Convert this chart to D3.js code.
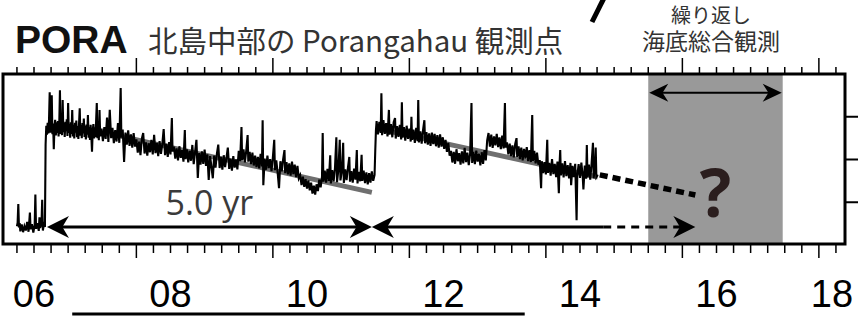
<!DOCTYPE html>
<html>
<head><meta charset="utf-8">
<style>
  body { margin: 0; background: #fff; }
  svg { display: block; }
  .cjk { font-family: "Noto Sans CJK JP", sans-serif; fill: #333; }
</style>
</head>
<body>
<script src="https://d3js.org/d3.v7.min.js"></script>
<script>
var width = 858, height = 316;

// PORA GPS displacement, [decimal year, mm]
var displacement = [
  [2005.75,-5.6],[2005.76,-4.8],[2005.77,-0.4],[2005.78,-5.9],[2005.79,-4.9],[2005.80,-6.8],[2005.82,-5.2],[2005.84,-7.0],[2005.86,-5.6],[2005.88,-6.6],[2005.90,-4.6],[2005.92,-6.9],[2005.94,-2.4],[2005.95,-6.3],[2005.97,-5.1],[2005.99,-7.1],[2006.01,-5.3],[2006.02,1.8],[2006.03,-6.2],[2006.05,-4.9],[2006.07,-6.7],[2006.08,-3.5],[2006.09,-6.0],[2006.11,-5.0],[2006.12,0.6],[2006.13,-6.6],[2006.15,-4.6],[2006.16,-5.8],
  [2006.17,13.5],[2006.18,17.9],[2006.19,15.8],[2006.20,18.6],[2006.21,16.1],[2006.22,19.2],[2006.23,25.7],[2006.24,16.3],[2006.25,18.8],[2006.26,25.0],[2006.27,15.9],[2006.28,18.4],[2006.29,12.4],[2006.30,17.6],[2006.31,19.3],[2006.32,15.6],[2006.33,18.7],[2006.34,16.2],[2006.35,19.0],[2006.36,15.4],[2006.37,18.2],[2006.38,26.2],[2006.39,16.0],[2006.40,18.9],[2006.41,15.7],[2006.42,23.9],[2006.43,16.4],[2006.44,18.5],[2006.45,15.3],[2006.46,18.8],[2006.47,16.6],[2006.48,19.4],[2006.49,15.5],[2006.50,23.2],[2006.51,16.2],[2006.52,18.3],[2006.53,15.1],[2006.54,18.7],[2006.55,16.0],[2006.56,21.6],[2006.57,15.4],[2006.58,18.1],[2006.59,14.9],[2006.60,18.6],[2006.61,16.3],[2006.62,19.1],[2006.63,15.2],[2006.64,17.8],[2006.65,14.8],[2006.66,18.4],[2006.67,22.0],[2006.68,15.6],[2006.69,18.0],[2006.70,15.0],[2006.71,18.5],[2006.72,16.1],[2006.73,19.6],[2006.74,15.3],[2006.75,17.9],[2006.76,14.7],[2006.77,18.2],[2006.78,15.8],[2006.79,20.4],[2006.80,15.1],[2006.81,17.6],[2006.82,14.6],[2006.83,18.1],[2006.84,15.5],[2006.85,11.8],[2006.86,16.7],[2006.87,18.3],[2006.88,14.9],[2006.89,17.5],[2006.90,15.2],[2006.91,19.0],[2006.92,23.2],[2006.93,15.0],[2006.94,17.6],[2006.95,14.5],[2006.96,21.6],[2006.97,15.4],
  [2006.99,17.2],[2007.01,14.3],[2007.03,17.6],[2007.05,14.8],[2007.07,19.8],[2007.09,14.1],[2007.11,21.6],[2007.13,15.0],[2007.15,17.4],[2007.17,13.8],[2007.19,16.9],[2007.21,14.2],[2007.23,18.5],[2007.25,13.9],[2007.27,26.7],[2007.28,15.1],[2007.30,17.0],[2007.32,9.4],[2007.34,16.3],[2007.36,13.5],[2007.38,16.8],[2007.40,13.2],[2007.42,15.9],[2007.44,12.8],[2007.46,16.2],[2007.48,13.0],
  [2007.50,14.7],[2007.52,11.6],[2007.54,14.2],[2007.56,11.0],[2007.58,14.9],[2007.60,16.2],[2007.62,11.4],[2007.64,14.0],[2007.66,10.9],[2007.68,13.8],[2007.70,11.7],[2007.72,14.6],[2007.74,11.2],[2007.76,15.8],[2007.78,11.5],[2007.80,13.9],[2007.82,10.8],[2007.84,14.3],[2007.86,11.3],[2007.88,13.6],[2007.90,17.1],[2007.92,11.0],[2007.94,13.7],[2007.96,10.6],[2007.98,14.1],[2008.00,11.2],[2008.02,19.7],[2008.03,11.9],
  [2008.05,13.0],[2008.07,10.2],[2008.09,12.6],[2008.11,9.8],[2008.13,13.1],[2008.15,10.4],[2008.17,12.2],[2008.19,9.5],[2008.21,16.9],[2008.22,10.1],[2008.24,12.4],[2008.26,9.3],[2008.28,12.0],[2008.30,9.7],[2008.32,13.4],[2008.34,8.9],[2008.36,11.8],[2008.38,14.6],[2008.40,5.7],[2008.42,11.5],[2008.44,8.8],[2008.46,11.9],[2008.48,9.0],[2008.50,12.3],[2008.52,8.5],[2008.54,11.2],[2008.56,5.2],[2008.58,10.8],[2008.60,8.3],[2008.62,5.6],[2008.64,10.9],[2008.66,8.1],[2008.68,11.4],[2008.70,13.5],[2008.72,8.0],[2008.74,10.6],[2008.76,7.6],[2008.78,11.0],[2008.80,8.2],[2008.82,10.4],[2008.84,12.8],[2008.86,7.8],[2008.88,10.2],[2008.90,7.4],[2008.92,10.8],[2008.94,8.1],[2008.96,10.0],[2008.98,7.7],
  [2009.00,12.0],[2009.02,9.6],[2009.04,17.6],[2009.05,9.8],[2009.07,12.4],[2009.09,9.3],[2009.11,12.1],[2009.13,15.7],[2009.14,9.5],[2009.16,11.8],[2009.18,8.9],[2009.20,11.6],[2009.22,8.6],
  [2009.24,10.9],[2009.26,8.2],[2009.28,10.6],[2009.30,7.9],[2009.32,11.3],[2009.34,8.4],[2009.35,19.2],[2009.36,4.0],[2009.38,10.2],[2009.40,7.6],[2009.42,10.9],[2009.44,8.0],[2009.46,10.1],[2009.48,7.3],[2009.50,10.5],[2009.52,14.6],[2009.53,7.5],[2009.55,9.8],[2009.57,6.9],[2009.59,3.3],[2009.61,9.6],[2009.63,7.2],[2009.65,10.0],[2009.67,12.2],[2009.68,6.8],[2009.70,9.4],[2009.72,6.5],[2009.74,9.1],[2009.76,6.2],[2009.78,9.5],[2009.80,6.6],[2009.82,8.8],[2009.84,5.9],[2009.86,8.5],[2009.88,5.6],
  [2009.90,6.3],[2009.92,4.0],[2009.94,6.0],[2009.96,3.6],[2009.98,5.4],[2010.00,3.2],[2010.02,5.1],[2010.04,2.8],[2010.06,4.6],[2010.08,2.0],[2010.10,3.9],[2010.12,1.8],[2010.14,4.2],[2010.16,2.6],[2010.18,5.3],[2010.20,3.5],[2010.22,6.0],
  [2010.23,16.2],[2010.24,4.8],[2010.26,7.4],[2010.28,4.6],[2010.30,7.8],[2010.32,5.0],[2010.34,11.0],[2010.35,4.4],[2010.37,7.5],[2010.39,4.9],[2010.41,8.0],[2010.43,15.2],[2010.44,4.7],[2010.46,7.6],[2010.48,14.6],[2010.49,5.1],[2010.51,7.2],[2010.53,13.9],[2010.54,4.5],[2010.56,7.7],[2010.58,5.2],[2010.60,8.1],[2010.62,10.6],[2010.63,4.8],[2010.65,7.3],[2010.67,4.6],[2010.69,7.9],[2010.71,5.3],[2010.73,12.2],[2010.74,4.4],[2010.76,7.1],[2010.78,4.9],[2010.80,11.1],[2010.81,5.0],[2010.83,7.4],[2010.85,4.5],[2010.87,7.0],[2010.89,4.2],[2010.91,6.8],[2010.93,4.6],[2010.95,7.2],[2010.97,5.0],[2010.99,6.4],
  [2011.00,12.0],[2011.01,16.8],
  [2011.02,19.0],[2011.04,15.9],[2011.06,18.8],[2011.08,16.2],[2011.09,25.5],[2011.10,15.7],[2011.12,19.2],[2011.14,16.0],[2011.16,18.5],[2011.18,15.4],[2011.20,21.6],[2011.21,15.8],[2011.23,18.3],[2011.25,15.2],[2011.27,18.7],[2011.29,19.7],[2011.30,14.9],[2011.32,17.8],[2011.34,15.3],[2011.36,18.1],[2011.38,14.7],[2011.39,23.4],[2011.40,15.1],[2011.42,17.6],[2011.44,14.4],[2011.46,17.9],[2011.48,14.8],[2011.50,17.2],[2011.52,14.2],[2011.53,20.0],[2011.54,14.6],[2011.56,17.0],[2011.58,13.9],[2011.60,17.4],[2011.62,14.3],[2011.63,23.9],[2011.64,14.0],[2011.66,16.6],[2011.68,13.7],[2011.70,16.9],[2011.72,19.2],[2011.73,13.8],[2011.75,16.4],[2011.77,13.5],[2011.79,16.1],
  [2011.81,13.2],[2011.83,16.3],[2011.85,13.6],[2011.87,16.0],[2011.89,13.1],[2011.91,15.7],[2011.93,12.8],[2011.95,15.9],[2011.97,13.0],[2011.99,15.2],[2012.01,12.5],[2012.03,14.6],[2012.05,11.8],[2012.07,13.9],[2012.09,10.9],
  [2012.11,12.0],[2012.13,9.3],[2012.15,11.8],[2012.17,9.0],[2012.19,12.4],[2012.21,9.6],[2012.23,11.5],[2012.25,8.8],[2012.27,11.9],[2012.29,9.1],[2012.31,12.7],[2012.33,9.4],[2012.35,11.6],[2012.37,8.7],[2012.39,11.3],[2012.41,23.2],[2012.42,9.2],[2012.44,11.8],[2012.46,8.9],[2012.48,12.1],[2012.50,9.5],[2012.52,11.4],[2012.54,8.6],[2012.56,11.7],[2012.58,9.0],[2012.60,12.2],[2012.62,9.8],
  [2012.64,14.5],[2012.66,16.2],[2012.68,13.0],[2012.70,15.8],[2012.72,12.7],[2012.74,15.4],[2012.76,13.3],[2012.78,16.0],[2012.80,12.9],[2012.82,15.2],[2012.84,12.4],[2012.86,15.6],[2012.88,12.6],[2012.90,23.2],[2012.91,12.8],
  [2012.93,14.0],[2012.95,11.2],[2012.97,13.7],[2012.99,10.8],[2013.01,13.3],[2013.03,10.5],[2013.05,13.6],[2013.07,15.0],[2013.08,10.6],[2013.10,13.1],[2013.12,10.1],[2013.14,12.8],[2013.16,9.8],[2013.18,12.5],[2013.20,10.2],[2013.22,12.9],[2013.24,9.6],[2013.26,12.2],[2013.28,9.4],[2013.30,20.4],[2013.31,9.7],[2013.33,12.0],[2013.35,9.1],[2013.37,11.6],[2013.39,8.8],
  [2013.41,9.9],[2013.43,3.3],[2013.44,9.6],[2013.46,6.8],[2013.48,9.4],[2013.50,6.5],[2013.52,14.6],[2013.53,6.9],[2013.55,9.2],[2013.57,6.2],[2013.59,10.1],[2013.61,6.6],[2013.63,9.0],[2013.65,5.9],[2013.67,9.5],[2013.69,2.1],[2013.70,8.8],[2013.71,12.2],[2013.72,6.3],[2013.74,9.1],[2013.76,5.8],[2013.78,9.6],[2013.80,6.1],[2013.82,8.7],[2013.84,5.6],[2013.86,9.2],[2013.87,4.0],[2013.89,8.5],[2013.91,5.9],[2013.93,9.0],[2013.95,-4.2],[2013.96,6.2],[2013.98,8.9],[2014.00,5.7],[2014.02,9.3],[2014.04,6.0],[2014.05,3.0],[2014.07,8.6],[2014.09,5.5],[2014.10,13.4],[2014.11,5.8],[2014.13,8.8],[2014.15,5.3],[2014.17,9.1],[2014.19,13.9],[2014.20,5.6],[2014.22,8.4],[2014.23,12.8],[2014.24,5.9],[2014.26,6.4]
];

// fitted inter-event trends and extrapolation
var trend1 = [[2007.20, 15.7], [2010.95, 2.3]];
var trend2 = [[2011.10, 17.0], [2014.26, 5.9]];
var forecast = [[2014.29, 6.4], [2015.69, 1.7]];

// recurrence arrows (years) and label
var recurrence = [2006.19, 2010.95, 2014.34];
var recurrenceNext = 2015.69;
var recurrenceLevel = -5.8;
var recurrenceLabel = "5.0 yr";

// repeated seafloor observation period
var campaign = [2015.0, 2016.97];
var campaignLevel = 25.6;
var campaignLines = ["繰り返し", "海底総合観測"];

var yearTicks = [2006, 2008, 2010, 2012, 2014, 2016, 2018];
var yearLabels = ["06", "08", "10", "12", "14", "16", "18"];
var rightTicks = [0, 10, 20];
var underline = [2006.56, 2013.19];

var frame = {left: 3, right: 845, top: 74, bottom: 244};

var x = d3.scaleLinear().domain([2006, 2018]).range([34, 853]);
var y = d3.scaleLinear().domain([-10, 30]).range([245, 74]);

var svg = d3.select("body").append("svg")
    .attr("width", width)
    .attr("height", height);

// gray box
svg.append("rect")
    .attr("x", x(campaign[0]))
    .attr("y", frame.top)
    .attr("width", x(campaign[1]) - x(campaign[0]))
    .attr("height", frame.bottom - frame.top)
    .attr("fill", "#999");

var line = d3.line().x(d => x(d[0])).y(d => y(d[1]));

svg.selectAll(".trend")
    .data([trend1, trend2])
  .enter().append("path")
    .attr("class", "trend")
    .attr("d", line)
    .attr("fill", "none")
    .attr("stroke", "#6f6f6f")
    .attr("stroke-width", 5);

svg.append("path")
    .datum(displacement)
    .attr("d", line)
    .attr("fill", "none")
    .attr("stroke", "#000")
    .attr("stroke-width", 2.1);

svg.append("path")
    .datum(forecast)
    .attr("d", line)
    .attr("fill", "none")
    .attr("stroke", "#000")
    .attr("stroke-width", 5.5)
    .attr("stroke-dasharray", "8,5");

// arrows
function head(tx, ty, dir, L, W) {
  return "M" + tx + "," + ty +
    "L" + (tx + dir * L) + "," + (ty - W) +
    "L" + (tx + dir * L * 0.7) + "," + ty +
    "L" + (tx + dir * L) + "," + (ty + W) + "Z";
}

var ay = y(recurrenceLevel);
var arrows = svg.append("g");
for (var i = 0; i < recurrence.length - 1; i++) {
  var a = x(recurrence[i]), b = x(recurrence[i + 1]);
  arrows.append("line")
    .attr("x1", a + 12).attr("x2", i == 0 ? b - 12 : b)
    .attr("y1", ay).attr("y2", ay)
    .attr("stroke", "#000").attr("stroke-width", 3);
  arrows.append("path").attr("d", head(a, ay, 1, 22, 11));
  if (i == 0) arrows.append("path").attr("d", head(b, ay, -1, 22, 11));
}
arrows.append("line")
    .attr("x1", x(recurrence[recurrence.length - 1]))
    .attr("x2", x(recurrenceNext) - 14)
    .attr("y1", ay).attr("y2", ay)
    .attr("stroke", "#000").attr("stroke-width", 3)
    .attr("stroke-dasharray", "8,6");
arrows.append("path").attr("d", head(x(recurrenceNext), ay, -1, 22, 11));

var cy = y(campaignLevel);
arrows.append("line")
    .attr("x1", x(campaign[0]) + 10).attr("x2", x(campaign[1]) - 10)
    .attr("y1", cy).attr("y2", cy)
    .attr("stroke", "#000").attr("stroke-width", 2);
arrows.append("path").attr("d", head(x(campaign[0]) + 1, cy, 1, 19, 9));
arrows.append("path").attr("d", head(x(campaign[1]) - 1, cy, -1, 19, 9));

svg.append("text")
    .attr("x", (x(recurrence[0]) + x(recurrence[1])) / 2)
    .attr("y", 215)
    .attr("text-anchor", "middle")
    .style("font-family", "'Open Sans', sans-serif")
    .style("font-size", "34px")
    .attr("fill", "#3a3a3a")
    .text(recurrenceLabel);

svg.append("text")
    .attr("x", x(2016) - 1)
    .attr("y", 217)
    .attr("text-anchor", "middle")
    .style("font-family", "'Open Sans', sans-serif")
    .style("font-weight", "bold")
    .style("font-size", "66px")
    .attr("fill", "#2b1e1e")
    .text("?");

// frame and ticks
svg.append("rect")
    .attr("x", frame.left).attr("y", frame.top)
    .attr("width", frame.right - frame.left)
    .attr("height", frame.bottom - frame.top)
    .attr("fill", "none")
    .attr("stroke", "#000")
    .attr("stroke-width", 3);

var minor = d3.range(0, 49).map(i => ({t: 2005.75 + i * 0.25, major: (i - 7) % 8 == 0}));
svg.append("g").selectAll("line")
    .data(minor)
  .enter().append("line")
    .attr("x1", d => x(d.t)).attr("x2", d => x(d.t))
    .attr("y1", frame.top).attr("y2", d => frame.top - (d.major ? 16 : 7))
    .attr("stroke", "#000").attr("stroke-width", 1.5);
svg.append("g").selectAll("line")
    .data(minor)
  .enter().append("line")
    .attr("x1", d => x(d.t)).attr("x2", d => x(d.t))
    .attr("y1", frame.bottom).attr("y2", d => frame.bottom + (d.major ? 14 : 9))
    .attr("stroke", "#000").attr("stroke-width", 1.5);
svg.append("g").selectAll("line")
    .data(rightTicks)
  .enter().append("line")
    .attr("x1", frame.right).attr("x2", width)
    .attr("y1", d => y(d)).attr("y2", d => y(d))
    .attr("stroke", "#000").attr("stroke-width", 2);

svg.append("g").selectAll("text")
    .data(yearTicks)
  .enter().append("text")
    .attr("x", d => Math.min(x(d), 832))
    .attr("y", 307)
    .attr("text-anchor", "middle")
    .style("font-family", "'Liberation Sans', Arial, sans-serif")
    .style("font-size", "38px")
    .attr("fill", "#000")
    .text((d, i) => yearLabels[i]);

svg.append("line")
    .attr("x1", x(underline[0])).attr("x2", x(underline[1]))
    .attr("y1", 314).attr("y2", 314)
    .attr("stroke", "#000").attr("stroke-width", 3);

// titles
svg.append("text")
    .attr("x", 15).attr("y", 53)
    .style("font-family", "'Liberation Sans', Arial, sans-serif")
    .style("font-weight", "bold")
    .style("font-size", "39px")
    .attr("fill", "#111")
    .text("PORA");

svg.append("text")
    .attr("class", "cjk")
    .attr("x", 148).attr("y", 52)
    .style("font-size", "29.5px")
    .text("北島中部の Porangahau 観測点");

// two-line campaign label in one text element
var camp = svg.append("text")
    .attr("class", "cjk")
    .attr("text-anchor", "middle");
camp.selectAll("tspan")
    .data(campaignLines)
  .enter().append("tspan")
    .attr("x", 711)
    .attr("y", (d, i) => 23 + i * 27)
    .style("font-size", (d, i) => i == 0 ? "20px" : "23px")
    .text(d => d);

// cut-off stroke at top edge
svg.append("path")
    .attr("d", "M604,-2L592,22")
    .attr("stroke", "#000")
    .attr("stroke-width", 5);
</script>
</body>
</html>
